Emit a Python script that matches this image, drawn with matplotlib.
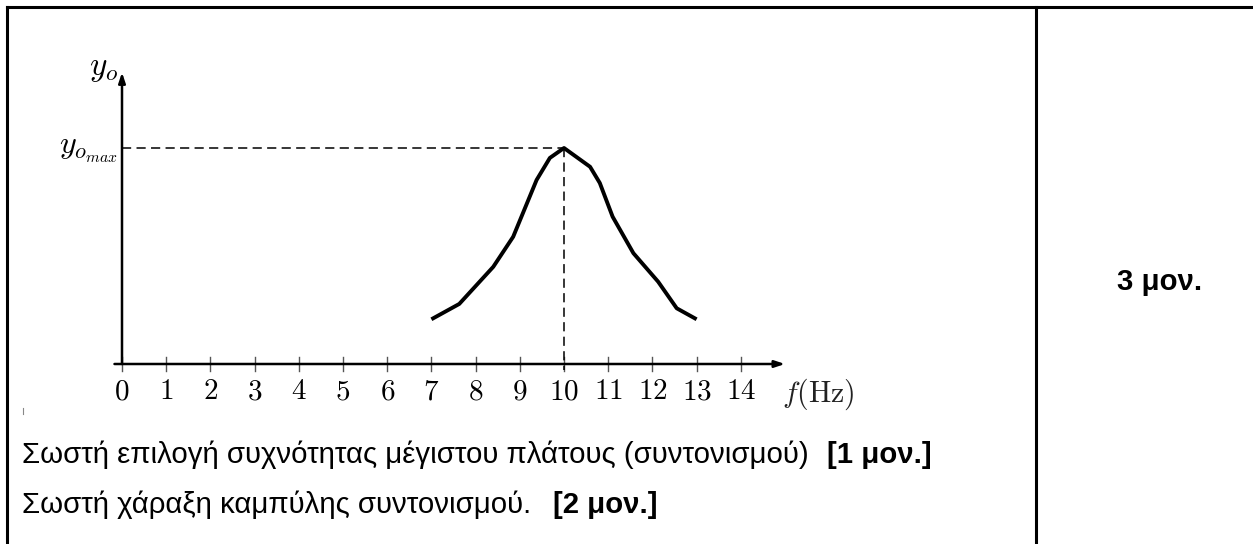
import numpy as np
import matplotlib.pyplot as plt

plt.rcParams['mathtext.fontset'] = 'cm'
plt.rcParams['font.family'] = ['Liberation Sans', 'DejaVu Sans']

# resonance curve (f in Hz, amplitude relative to y_omax)
freqs = [7.0, 7.63, 8.4, 8.85, 9.38, 9.68, 10.0, 10.59, 10.81, 11.1, 11.57, 12.13, 12.55, 13.0]
amps = [0.207, 0.278, 0.45, 0.589, 0.852, 0.954, 1.0, 0.913, 0.838, 0.682, 0.513, 0.381, 0.258, 0.207]
f_res = 10
ticks = list(range(0, 15))

line1 = "Σωστή επιλογή συχνότητας μέγιστου πλάτους (συντονισμού)"
mark1 = "[1 μον.]"
line2 = "Σωστή χάραξη καμπύλης συντονισμού."
mark2 = "[2 μον.]"
total = "3 μον."

W, H = 1253, 544
fig = plt.figure(figsize=(W/100, H/100), dpi=100)
ax = fig.add_axes([0, 0, 1, 1])
# 44.2 px per Hz, origin at pixel (122, 364 from top), 216 px per unit of y
ax.set_xlim(-122/44.2, (W-122)/44.2)
ax.set_ylim(-(H-364)/216, 364/216)
ax.axis('off')

def px(x, y):
    return x/W, 1 - y/H

# table lines
lw_tab = 2.2
fig.add_artist(plt.Line2D([px(7, 0)[0], 1], [px(0, 7)[1]]*2, color='black', lw=lw_tab))
fig.add_artist(plt.Line2D([px(7, 0)[0]]*2, [px(0, 7)[1], 0], color='black', lw=lw_tab))
fig.add_artist(plt.Line2D([px(1036, 0)[0]]*2, [px(0, 7)[1], 0], color='black', lw=lw_tab))

# axes with arrows
ax.annotate('', xy=(15.0, 0), xytext=(-0.17, 0),
            arrowprops=dict(arrowstyle='-|>,head_length=0.6,head_width=0.2', color='black', lw=1.8, shrinkA=0, shrinkB=0))
ax.annotate('', xy=(0, 1.35), xytext=(0, 0),
            arrowprops=dict(arrowstyle='-|>,head_length=0.6,head_width=0.2', color='black', lw=1.8, shrinkA=0, shrinkB=0))

for t in ticks:
    ax.plot([t, t], [-0.032, 0.032], color='#555555', lw=1.0)
    ax.text(t, -0.125, '$%d$' % t, ha='center', va='center', fontsize=21)
ax.text(14.93, -0.14, r'$f(\mathrm{Hz})$', ha='left', va='center', fontsize=21.5, color='#222222')

ax.text(-0.08, 1.37, '$y_o$', ha='right', va='center', fontsize=24)
ax.text(-0.1, 0.99, '$y_{o_{max}}$', ha='right', va='center', fontsize=23)

# guide lines to the peak
ax.plot([0, f_res], [1, 1], color='black', lw=1.1, ls=(0, (6, 3.5)))
ax.plot([f_res, f_res], [1, -0.03], color='black', lw=1.1, ls=(0, (6, 3.5)))

ax.plot(freqs, amps, color='black', lw=2.8, solid_capstyle='butt', solid_joinstyle='round')

# small stray mark
ax.plot([(23-122)/44.2]*2, [-(408-364)/216, -(414-364)/216], color='#888888', lw=0.8)

# texts
fs = 21.2
t1 = fig.text(*px(22, 455), line1, ha='left', va='center', fontsize=fs)
t2 = fig.text(*px(22, 505), line2, ha='left', va='center', fontsize=fs)
fig.text(*px(1160, 282), total, ha='center', va='center', fontsize=fs, fontweight='bold')
fig.canvas.draw()
r = fig.canvas.get_renderer()
e1 = t1.get_window_extent(r)
e2 = t2.get_window_extent(r)
fig.text((e1.x1 + 18)/W, 1 - 455/H, mark1, ha='left', va='center', fontsize=fs, fontweight='bold')
fig.text((e2.x1 + 22)/W, 1 - 505/H, mark2, ha='left', va='center', fontsize=fs, fontweight='bold')

fig.savefig('out.png', dpi=100, facecolor='white')
